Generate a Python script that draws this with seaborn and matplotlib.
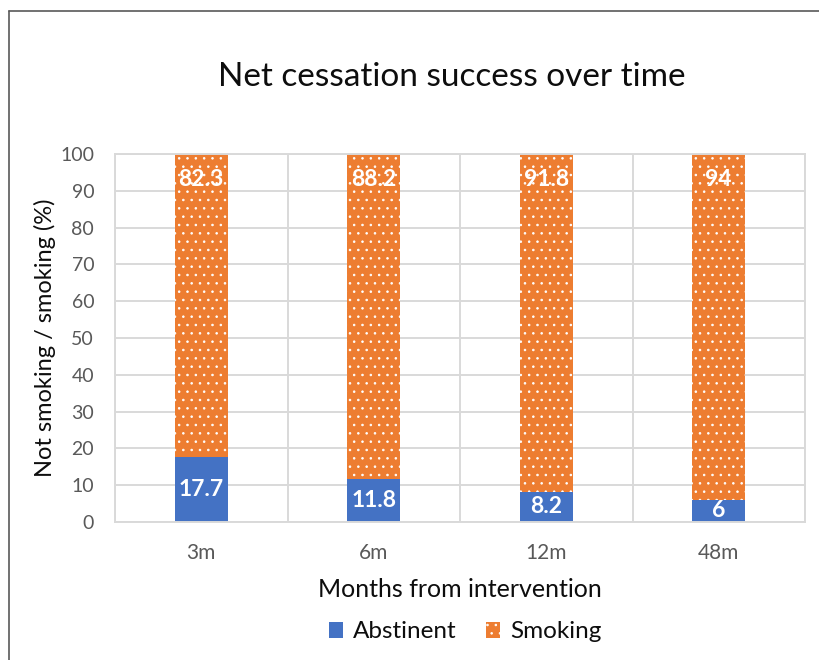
import matplotlib
matplotlib.use("Agg")
import matplotlib.pyplot as plt
import pandas as pd
import seaborn as sns
from matplotlib.patches import Patch
from matplotlib.lines import Line2D

# Chart data
months = ["3m", "6m", "12m", "48m"]
abstinent = [17.7, 11.8, 8.2, 6]
smoking = [82.3, 88.2, 91.8, 94]
y_ticks = [0, 10, 20, 30, 40, 50, 60, 70, 80, 90, 100]

BLUE = "#4472C4"
ORANGE = "#ED7D31"
GRID = "#D9D9D9"
TICK_TXT = "#595959"
TXT = "#0D0D0D"

df = pd.DataFrame({"month": months, "Abstinent": abstinent, "Smoking": smoking})
df["Total"] = df["Abstinent"] + df["Smoking"]

sns.set_theme(style="white")
plt.rcParams["font.family"] = ["Lato", "DejaVu Sans"]
plt.rcParams["hatch.linewidth"] = 0.6

W, H = 819, 660
fig, ax = plt.subplots(figsize=(W / 100, H / 100), dpi=100)
fig.subplots_adjust(left=115 / W, right=805 / W, top=1 - 154 / H, bottom=1 - 522 / H)

# Stacked bars: full-height smoking bar first, abstinent drawn over its base
sns.barplot(data=df, x="month", y="Total", color=ORANGE, saturation=1,
            width=0.31, edgecolor="white", linewidth=0, hatch="..", ax=ax)
sns.barplot(data=df, x="month", y="Abstinent", color=BLUE, saturation=1,
            width=0.31, linewidth=0, ax=ax)

ax.set_xlim(-0.5, len(months) - 0.5)
ax.set_ylim(0, 100)
ax.set_yticks(y_ticks)
ax.set_axisbelow(True)

# Horizontal gridlines plus vertical separators between categories
ax.yaxis.grid(True, color=GRID, linewidth=1.4)
ax.set_xticks([i + 0.5 for i in range(-1, len(months))], minor=True)
ax.xaxis.grid(True, which="minor", color=GRID, linewidth=1.4)
for sp in ax.spines.values():
    sp.set_color(GRID)
    sp.set_linewidth(1.4)

ax.tick_params(axis="both", which="both", length=0)
ax.tick_params(axis="y", pad=15, labelsize=14, labelcolor=TICK_TXT)
ax.tick_params(axis="x", pad=15, labelsize=15, labelcolor=TICK_TXT)

ax.set_xlabel("Months from intervention", fontsize=18, color=TXT, labelpad=11)
ax.set_ylabel("Not smoking / smoking (%)", fontsize=17, color=TXT, labelpad=3)
fig.suptitle("Net cessation success over time", x=452 / W, y=1 - 77 / H,
             va="center", fontsize=24, color=TXT)

# Value labels: abstinent centred in its segment, smoking near the bar top
for i, (a, s) in enumerate(zip(abstinent, smoking)):
    ax.text(i, a / 2, f"{a:g}", ha="center", va="center", color="white",
            fontsize=16.5, fontweight="bold")
    ax.annotate(f"{s:g}", xy=(i, a + s), xytext=(0, -18.4),
                textcoords="offset points", ha="center", va="center",
                color="white", fontsize=16.5, fontweight="bold")

handles = [Patch(facecolor=BLUE, edgecolor=BLUE, linewidth=0),
           Patch(facecolor=ORANGE, edgecolor="white", linewidth=0, hatch="..")]
fig.legend(handles, ["Abstinent", "Smoking"], loc="center",
           bbox_to_anchor=(465 / W, 1 - 632 / H), ncol=2, frameon=False,
           fontsize=17.5, handlelength=0.6, handleheight=0.6, handletextpad=0.4,
           columnspacing=1.2, labelcolor=TXT)

# Chart-area border (top and left edges)
fig.add_artist(Line2D([9 / W, 9 / W], [0, 1 - 11 / H], color="#595959",
                      linewidth=1.2, transform=fig.transFigure))
fig.add_artist(Line2D([9 / W, 1], [1 - 11 / H, 1 - 11 / H], color="#595959",
                      linewidth=1.2, transform=fig.transFigure))

fig.savefig("out.png", dpi=100)
